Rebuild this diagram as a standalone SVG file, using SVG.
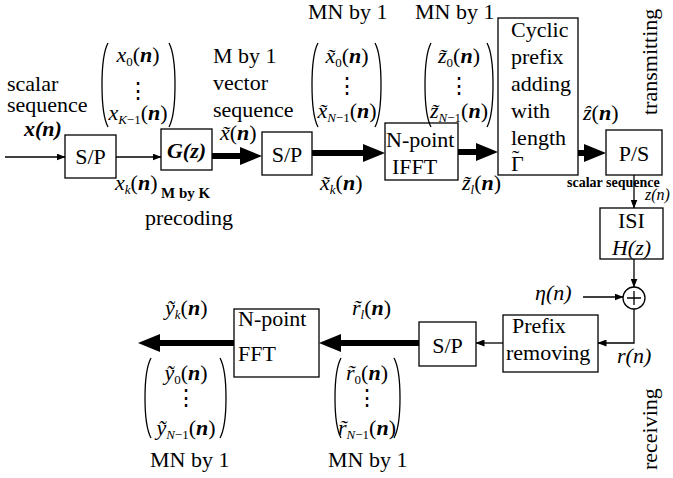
<svg xmlns="http://www.w3.org/2000/svg" width="673" height="478" viewBox="0 0 673 478" font-family="Liberation Serif, Times New Roman, serif" font-size="22">
<style>
.i{font-style:italic}
.bi{font-style:italic;font-weight:bold}
.b{font-weight:bold}
.s{font-size:13px}
.box{fill:#fff;stroke:#000;stroke-width:1.3}
.thin{stroke:#000;stroke-width:1.3;fill:none}
.thick{stroke:#000;stroke-width:6;fill:none}
.par{stroke:#000;stroke-width:1.3;fill:none}
</style>
<defs>
<marker id="ah" markerUnits="userSpaceOnUse" markerWidth="9" markerHeight="7" refX="8.5" refY="3.5" orient="auto"><path d="M0,0 L9,3.5 L0,7 z"/></marker>
<marker id="bh" markerUnits="userSpaceOnUse" markerWidth="22" markerHeight="18" refX="4" refY="9" orient="auto"><path d="M0,0 L22,9 L0,18 z"/></marker>
</defs>
<rect width="673" height="478" fill="#fff"/>

<g id="connectors">
<path class="thin" d="M5,157 L65,157" marker-end="url(#ah)"/>
<path class="thin" d="M116,157 L161,157" marker-end="url(#ah)"/>
<path class="thick" d="M212,156 L244,156" marker-end="url(#bh)"/>
<path class="thick" d="M312,153 L367,153" marker-end="url(#bh)"/>
<path class="thick" d="M458,152 L480,152" marker-end="url(#bh)"/>
<path class="thick" d="M578,153 L588,153" marker-end="url(#bh)"/>
<path class="thin" d="M634,175 L634,208" marker-end="url(#ah)"/>
<path class="thin" d="M634,259 L634,287" marker-end="url(#ah)"/>
<path class="thin" d="M583,297 L623,297" marker-end="url(#ah)"/>
<path class="thin" d="M634,309 L634,343 L598,343" marker-end="url(#ah)"/>
<path class="thin" d="M503,343 L476,343" marker-end="url(#ah)"/>
<path class="thick" d="M419,343 L337,343" marker-end="url(#bh)"/>
<path class="thick" d="M234,343 L156,343" marker-end="url(#bh)"/>
</g>

<g id="sp1"><rect class="box" x="65" y="135" width="51" height="43"/><text x="90.5" y="164" text-anchor="middle">S/P</text></g>
<g id="gz"><rect class="box" x="161" y="129" width="51" height="41"/><text x="186.5" y="158" text-anchor="middle" class="bi">G(z)</text></g>
<g id="sp2"><rect class="box" x="262" y="132" width="50" height="43"/><text x="287" y="162" text-anchor="middle">S/P</text></g>
<g id="ifft"><rect class="box" x="385" y="123" width="73" height="57"/><text x="386" y="147">N-point</text><text x="392" y="174">IFFT</text></g>
<g id="cp"><rect class="box" x="498" y="18" width="80" height="157"/>
<text x="511" y="37">Cyclic</text><text x="511" y="64">prefix</text><text x="511" y="91">adding</text><text x="511" y="118">with</text><text x="511" y="145">length</text><text x="511" y="171">&#x393;</text><text x="512" y="165">&#x2DC;</text></g>
<g id="ps"><rect class="box" x="606" y="130" width="56" height="45"/><text x="634" y="161" text-anchor="middle">P/S</text></g>
<g id="isi"><rect class="box" x="600" y="208" width="63" height="51"/><text x="631.5" y="228" text-anchor="middle">ISI</text><text x="631.5" y="255" text-anchor="middle" class="i">H(z)</text></g>
<g id="sum"><circle cx="634" cy="298" r="11" fill="#fff" stroke="#000" stroke-width="1.3"/><path class="thin" d="M627,298 H641 M634,291 V305"/></g>
<g id="prefix"><rect class="box" x="503" y="315" width="95" height="57"/><text x="512" y="333">Prefix</text><text x="506" y="360">removing</text></g>
<g id="sp3"><rect class="box" x="419" y="322" width="57" height="44"/><text x="447.5" y="353" text-anchor="middle">S/P</text></g>
<g id="fft"><rect class="box" x="234" y="309" width="85" height="68"/><text x="238" y="326">N-point</text><text x="238" y="361">FFT</text></g>

<g id="labels">
<text x="7" y="91">scalar</text>
<text x="7" y="112">sequence</text>
<text x="24" y="136" class="bi">x(n)</text>
<text x="213" y="63">M by 1</text>
<text x="213" y="90">vector</text>
<text x="213" y="117">sequence</text>
<text x="220" y="140"><tspan class="i">x&#x303;</tspan>(<tspan class="bi">n</tspan>)</text>
<text x="115" y="190"><tspan class="i">x</tspan><tspan class="s i" dy="4">k</tspan><tspan dy="-4">(</tspan><tspan class="bi">n</tspan>)</text>
<text x="161" y="198" class="b" font-size="15">M by K</text>
<text x="145" y="225">precoding</text>
<text x="320" y="190"><tspan class="i">x&#x303;</tspan><tspan class="s i" dy="4">k</tspan><tspan dy="-4">(</tspan><tspan class="bi">n</tspan>)</text>
<text x="462" y="190"><tspan class="i">z&#x303;</tspan><tspan class="s i" dy="4">l</tspan><tspan dy="-4">(</tspan><tspan class="bi">n</tspan>)</text>
<text x="308" y="19">MN by 1</text>
<text x="415" y="19">MN by 1</text>
<text x="583" y="120"><tspan class="i">&#x1E91;</tspan>(<tspan class="bi">n</tspan>)</text>
<text x="567" y="187" class="b" font-size="14">scalar sequence</text>
<text x="645" y="200" class="i" font-size="16">z(n)</text>
<text transform="translate(657,115) rotate(-90)">transmitting</text>
<text transform="translate(657,470) rotate(-90)">receiving</text>
<text x="535" y="300" class="i">&#x3B7;(n)</text>
<text x="617" y="363" class="i">r(n)</text>
<text x="352" y="315"><tspan class="i">r&#x303;</tspan><tspan class="s i" dy="4">l</tspan><tspan dy="-4">(</tspan><tspan class="bi">n</tspan>)</text>
<text x="165" y="315"><tspan class="i">y&#x303;</tspan><tspan class="s i" dy="4">k</tspan><tspan dy="-4">(</tspan><tspan class="bi">n</tspan>)</text>
<text x="328" y="467">MN by 1</text>
<text x="150" y="467">MN by 1</text>
</g>

<g id="matrix-x">
<path class="par" d="M108,43 C100,58 100,112 108,127 M169,43 C177,58 177,112 169,127"/>
<text x="138" y="62" text-anchor="middle"><tspan class="i">x</tspan><tspan class="s" dy="4">0</tspan><tspan dy="-4">(</tspan><tspan class="bi">n</tspan>)</text>
<text x="138" y="98" text-anchor="middle">&#x22EE;</text>
<text x="138" y="120" text-anchor="middle"><tspan class="i">x</tspan><tspan class="s" dy="4"><tspan class="i">K</tspan>&#x2212;1</tspan><tspan dy="-4">(</tspan><tspan class="bi">n</tspan>)</text>
</g>
<g id="matrix-xt">
<path class="par" d="M318,43 C310,58 310,112 318,127 M375,43 C383,58 383,112 375,127"/>
<text x="347" y="63" text-anchor="middle"><tspan class="i">x&#x303;</tspan><tspan class="s" dy="4">0</tspan><tspan dy="-4">(</tspan><tspan class="bi">n</tspan>)</text>
<text x="347" y="93" text-anchor="middle">&#x22EE;</text>
<text x="347" y="118" text-anchor="middle"><tspan class="i">x&#x303;</tspan><tspan class="s" dy="4"><tspan class="i">N</tspan>&#x2212;1</tspan><tspan dy="-4">(</tspan><tspan class="bi">n</tspan>)</text>
</g>
<g id="matrix-zt">
<path class="par" d="M431,43 C423,58 423,112 431,127 M487,43 C495,58 495,112 487,127"/>
<text x="459" y="63" text-anchor="middle"><tspan class="i">z&#x303;</tspan><tspan class="s" dy="4">0</tspan><tspan dy="-4">(</tspan><tspan class="bi">n</tspan>)</text>
<text x="459" y="93" text-anchor="middle">&#x22EE;</text>
<text x="459" y="118" text-anchor="middle"><tspan class="i">z&#x303;</tspan><tspan class="s" dy="4"><tspan class="i">N</tspan>&#x2212;1</tspan><tspan dy="-4">(</tspan><tspan class="bi">n</tspan>)</text>
</g>
<g id="matrix-rt">
<path class="par" d="M341,358 C333,373 333,423 341,438 M394,358 C402,373 402,423 394,438"/>
<text x="367" y="380" text-anchor="middle"><tspan class="i">r&#x303;</tspan><tspan class="s" dy="4">0</tspan><tspan dy="-4">(</tspan><tspan class="bi">n</tspan>)</text>
<text x="367" y="405" text-anchor="middle">&#x22EE;</text>
<text x="367" y="435" text-anchor="middle"><tspan class="i">r&#x303;</tspan><tspan class="s" dy="4"><tspan class="i">N</tspan>&#x2212;1</tspan><tspan dy="-4">(</tspan><tspan class="bi">n</tspan>)</text>
</g>
<g id="matrix-yt">
<path class="par" d="M151,358 C143,373 143,423 151,438 M220,358 C228,373 228,423 220,438"/>
<text x="186" y="380" text-anchor="middle"><tspan class="i">y&#x303;</tspan><tspan class="s" dy="4">0</tspan><tspan dy="-4">(</tspan><tspan class="bi">n</tspan>)</text>
<text x="186" y="405" text-anchor="middle">&#x22EE;</text>
<text x="186" y="435" text-anchor="middle"><tspan class="i">y&#x303;</tspan><tspan class="s" dy="4"><tspan class="i">N</tspan>&#x2212;1</tspan><tspan dy="-4">(</tspan><tspan class="bi">n</tspan>)</text>
</g>
</svg>
